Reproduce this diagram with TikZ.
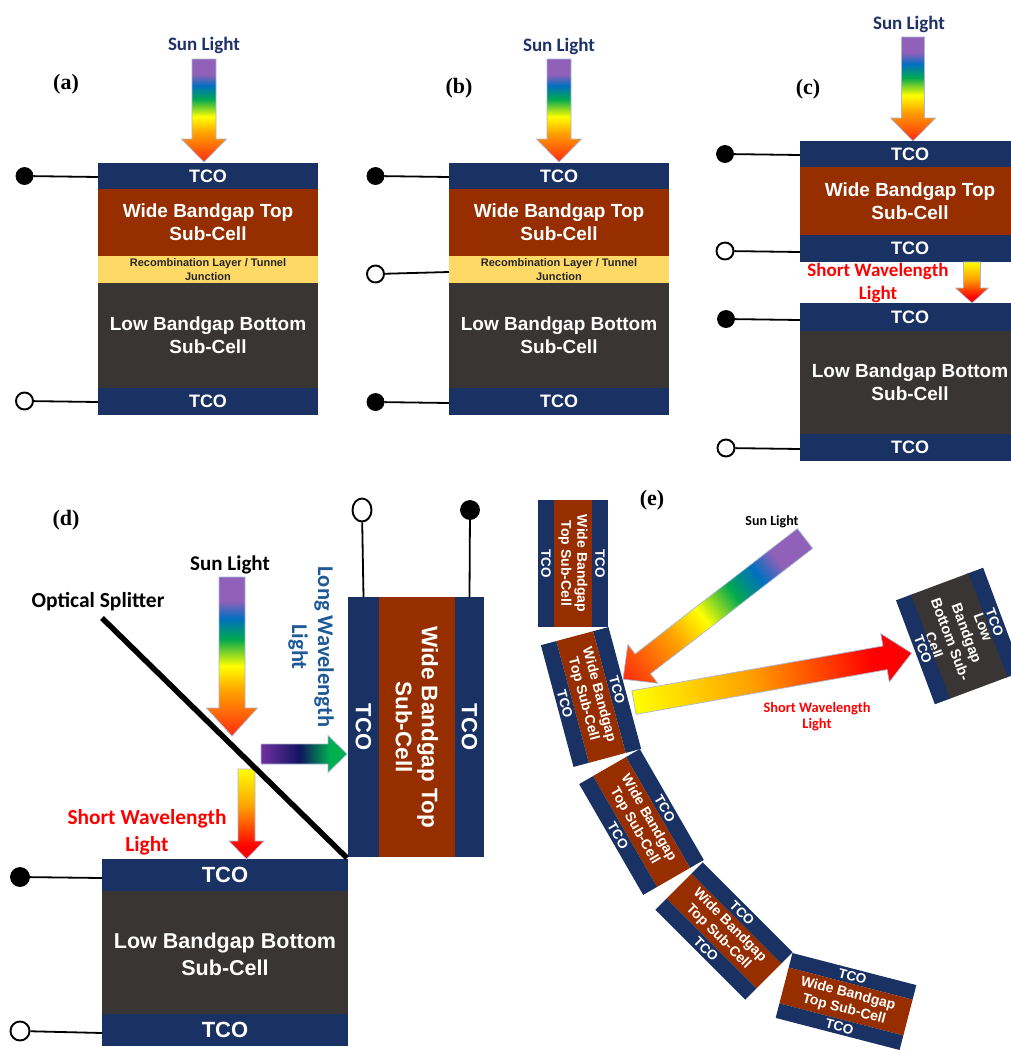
\documentclass[tikz,border=0pt]{standalone}
\usepackage{fontspec}
\usetikzlibrary{shapes.geometric}
\setmainfont{Liberation Sans}
\newfontfamily\labfont{Carlito}
\newfontfamily\tagfont{Liberation Serif}
\definecolor{tcoblue}{HTML}{1A3263}
\definecolor{widered}{HTML}{962E00}
\definecolor{lowgrey}{HTML}{383534}
\definecolor{recyel}{HTML}{FFD966}
\definecolor{sunnavy}{HTML}{1F3268}
\definecolor{longblue}{HTML}{1F5A96}
\definecolor{edgeblue}{HTML}{A9B8D6}
\definecolor{rP}{HTML}{9160B8}
\definecolor{rB}{HTML}{0070C0}
\definecolor{rG}{HTML}{00A850}
\definecolor{rY}{HTML}{FFFF00}
\definecolor{rO}{HTML}{FFA000}
\definecolor{rR}{HTML}{FF2A10}
\definecolor{sR}{HTML}{FF0000}
\definecolor{lP}{HTML}{7030A0}
\definecolor{lN}{HTML}{10145F}
\definecolor{lG}{HTML}{00B050}
\pgfdeclareverticalshading{rainbowshade}{100bp}{color(0bp)=(rR); color(25bp)=(rR); color(39bp)=(rO); color(47bp)=(rY); color(55.5bp)=(rG); color(62bp)=(rB); color(67.5bp)=(rP); color(75bp)=(rP); color(100bp)=(rP)}
\pgfdeclareverticalshading{shortshade}{100bp}{color(0bp)=(sR); color(32bp)=(sR); color(54bp)=(rO); color(75bp)=(rY); color(100bp)=(rY)}
\pgfdeclareverticalshading{longshade}{100bp}{color(0bp)=(lG); color(35bp)=(lG); color(52.5bp)=(lN); color(75bp)=(lP); color(100bp)=(lP)}
\newcommand\fs[2]{\fontsize{#1}{#2}\selectfont}
\tikzset{
  lay/.style={inner sep=0pt,outer sep=0pt,draw=none,align=center,text=white},
  termb/.style={circle,fill=black,draw=black,line width=.8pt,minimum size=17pt,inner sep=0pt},
  termo/.style={circle,fill=white,draw=black,line width=1.9pt,minimum size=17pt,inner sep=0pt},
  wire/.style={draw=black,line width=1.8pt},
  lab/.style={inner sep=0pt,align=center},
  tagl/.style={inner sep=0pt,font=\tagfont\bfseries\fs{22}{24}},
  edge/.style={draw=edgeblue,line width=.7pt,line join=miter}
}
% [opts] #2 name #3 x0 #4 y0 #5 x1 #6 y1 #7 colour #8 font #9 text
\newcommand\lay[9][]{\node[lay,#1,fill=#7,font=\bfseries#8,minimum width={(#5-#3)*1pt},minimum height={(#6-#4)*1pt}] (#2) at ({(#3+#5)/2},{(#4+#6)/2}) {#9};}
% tail x, tail y, angle, length, half shaft, half head, head length, shading
\newcommand\grarrow[8]{%
  \begin{scope}[transform canvas={shift={(#1,#2)},rotate=#3}]
    \begin{scope}
      \clip (-#5,0) -- (#5,0) -- (#5,#4-#7) -- (#6,#4-#7) -- (0,#4) -- (-#6,#4-#7) -- (-#5,#4-#7) -- cycle;
      \shade[shading=#8] (-#6,0) rectangle (#6,#4);
    \end{scope}
    \draw[edge] (-#5,0) -- (#5,0) -- (#5,#4-#7) -- (#6,#4-#7) -- (0,#4) -- (-#6,#4-#7) -- (-#5,#4-#7) -- cycle;
  \end{scope}}
% rotated 3-layer cell: #1 prefix #2 cx #3 cy #4 angle #5 length #6 top T #7 mid H #8 bottom T #9 middle colour; then {TCO font}{mid font}{mid text}
\newcommand\rcell[9]{\def\rcA{#1}\def\rcB{#2}\def\rcC{#3}\def\rcD{#4}\def\rcE{#5}\def\rcF{#6}\def\rcG{#7}\def\rcH{#8}\def\rcI{#9}\rcellB}
\newcommand\rcellB[3]{%
  \begin{scope}[shift={(\rcB,\rcC)},rotate=\rcD,transform shape]
    \pgfmathsetmacro\rcT{-(\rcF+\rcG+\rcH)/2}
    \pgfmathsetmacro\rcM{\rcT+\rcF}
    \pgfmathsetmacro\rcN{\rcM+\rcG}
    \pgfmathsetmacro\rcU{\rcN+\rcH}
    \pgfmathsetmacro\rcX{-\rcE/2}
    \pgfmathsetmacro\rcY{\rcE/2}
    \lay{\rcA t}{\rcX}{\rcT}{\rcY}{\rcM}{tcoblue}{#1}{TCO}
    \lay{\rcA m}{\rcX}{\rcM}{\rcY}{\rcN}{\rcI}{#2}{#3}
    \lay{\rcA b}{\rcX}{\rcN}{\rcY}{\rcU}{tcoblue}{#1}{TCO}
  \end{scope}}
\begin{document}
\begin{tikzpicture}[x=1pt,y=-1pt]
\fill[white] (0,0) rectangle (1011,1050);
\useasboundingbox (0,0) rectangle (1011,1050);
\clip (0,0) rectangle (1011,1050);

% ---------- (a)
\node[tagl] (taga) at (66,84) {(a)};
\node[lab,text=sunnavy,font=\labfont\bfseries\fs{19}{22}] (suna) at (204,45) {Sun Light};
\grarrow{204}{59}{0}{103}{12}{22.5}{23}{rainbowshade}
\lay{a1}{98}{163}{318}{189}{tcoblue}{\fs{18}{22}}{TCO}
\lay{a2}{98}{189}{318}{256}{widered}{\fs{19}{23}}{\rule{0pt}{2pt}Wide Bandgap Top\\Sub-Cell}
\lay[text=black!85]{a3}{98}{256}{318}{283}{recyel}{\fs{11}{14}}{Recombination Layer / Tunnel\\Junction}
\lay{a4}{98}{283}{318}{388}{lowgrey}{\fs{19}{23}}{Low Bandgap Bottom\\Sub-Cell}
\lay{a5}{98}{388}{318}{415}{tcoblue}{\fs{18}{22}}{TCO}
\node[termb] (ta1) at (24.5,176) {};
\node[termo] (ta2) at (24.5,401) {};
\coordinate (a1w) at (98,177);
\coordinate (a5w) at (98,402);
\draw[wire] (ta1) -- (a1w);
\draw[wire] (ta2) -- (a5w);

% ---------- (b)
\node[tagl] (tagb) at (459,88) {(b)};
\node[lab,text=sunnavy,font=\labfont\bfseries\fs{19}{22}] (sunb) at (559,46) {Sun Light};
\grarrow{559}{59}{0}{103}{12}{22.5}{23}{rainbowshade}
\lay{b1}{449}{163}{669}{189}{tcoblue}{\fs{18}{22}}{TCO}
\lay{b2}{449}{189}{669}{256}{widered}{\fs{19}{23}}{Wide Bandgap Top\\Sub-Cell}
\lay[text=black!85]{b3}{449}{256}{669}{283}{recyel}{\fs{11}{14}}{Recombination Layer / Tunnel\\Junction}
\lay{b4}{449}{283}{669}{388}{lowgrey}{\fs{19}{23}}{Low Bandgap Bottom\\Sub-Cell}
\lay{b5}{449}{388}{669}{415}{tcoblue}{\fs{18}{22}}{TCO}
\node[termb] (tb1) at (375.5,176) {};
\node[termo] (tb2) at (375.5,274) {};
\node[termb] (tb3) at (375.5,402) {};
\coordinate (b1w) at (449,177);
\coordinate (bj) at (449,272);
\coordinate (b5w) at (449,403);
\draw[wire] (tb1) -- (b1w);
\draw[wire] (tb2) -- (bj);
\draw[wire] (tb3) -- (b5w);

% ---------- (c)
\node[tagl] (tagc) at (808,89) {(c)};
\node[lab,text=sunnavy,font=\labfont\bfseries\fs{19}{22}] (sunc) at (909,24) {Sun Light};
\grarrow{913}{37}{0}{104}{11.5}{22.5}{23}{rainbowshade}
\lay{c1}{800}{141}{1020}{167}{tcoblue}{\fs{18}{22}}{TCO}
\lay{c2}{800}{167}{1020}{235}{widered}{\fs{19}{23}}{Wide Bandgap Top\\Sub-Cell}
\lay{c3}{800}{235}{1020}{262}{tcoblue}{\fs{18}{22}}{TCO}
\lay{c4}{800}{303}{1020}{331}{tcoblue}{\fs{18}{22}}{TCO}
\lay{c5}{800}{331}{1020}{434}{lowgrey}{\fs{19}{23}}{Low Bandgap Bottom\\Sub-Cell}
\lay{c6}{800}{434}{1020}{461}{tcoblue}{\fs{18}{22}}{TCO}
\grarrow{972}{262}{0}{41}{8.5}{16.5}{15}{shortshade}
\node[lab,text=red,font=\labfont\bfseries\fs{19}{23}] (shortc) at (878,283) {Short Wavelength\\Light};
\node[termb] (tc1) at (725,154) {};
\node[termo] (tc2) at (725,251) {};
\node[termb] (tc3) at (726,319) {};
\node[termo] (tc4) at (726,448) {};
\coordinate (c1w) at (800,155);
\coordinate (c3w) at (800,252);
\coordinate (c4w) at (800,320);
\coordinate (c6w) at (800,449);
\draw[wire] (tc1) -- (c1w);
\draw[wire] (tc2) -- (c3w);
\draw[wire] (tc3) -- (c4w);
\draw[wire] (tc4) -- (c6w);

% ---------- (d)
\node[tagl] (tagd) at (66,520) {(d)};
\node[lab,text=black,font=\labfont\bfseries\fs{21}{24}] (sund) at (230,565) {Sun Light};
\node[lab,text=black,font=\labfont\bfseries\fs{21.5}{24}] (opt) at (98,602) {Optical Splitter};
\rcell{dr}{416}{727}{-90}{260}{29}{76}{31}{widered}{\fs{22}{26}}{\fs{22.5}{26}}{Wide Bandgap Top\\Sub-Cell}
\lay{d1}{102}{859}{348}{891}{tcoblue}{\fs{22}{26}}{TCO}
\lay{d2}{102}{893}{348}{1016}{lowgrey}{\fs{21.5}{27}}{Low Bandgap Bottom\\Sub-Cell}
\lay{d2b}{102}{891}{348}{893}{lowgrey}{\fs{1}{1}}{}
\lay{d3}{102}{1014}{348}{1046}{tcoblue}{\fs{22}{26}}{TCO}
\grarrow{232}{577}{0}{159}{13}{25.5}{28}{rainbowshade}
\grarrow{246.5}{769}{0}{90}{8.5}{17.5}{18}{shortshade}
\grarrow{261}{754}{90}{86}{10}{18.5}{19}{longshade}
\node[lab,text=red,font=\labfont\bfseries\fs{21.4}{27}] (shortd) at (147,832) {Short Wavelength\\Light};
\node[lab,text=longblue,font=\labfont\bfseries\fs{22.5}{26},rotate=-90] (longd) at (311,647) {Long Wavelength\\Light};
\coordinate (sp1) at (102,618);
\coordinate (sp2) at (347,858);
\draw[black,line width=5.5pt] (sp1) -- (sp2);
\node[termb,minimum size=19pt] (td1) at (20,877) {};
\node[termo,minimum size=19pt] (td2) at (20,1031) {};
\coordinate (d1w) at (102,878);
\coordinate (d3w) at (102,1033);
\draw[wire] (td1) -- (d1w);
\draw[wire] (td2) -- (d3w);
\node[ellipse,fill=white,draw=black,line width=1.9pt,inner sep=0pt,minimum width=19pt,minimum height=23pt] (td3) at (362,510) {};
\node[termb,minimum size=19pt] (td4) at (470,510) {};
\draw[wire] (td3) -- (drb.west);
\draw[wire] (td4) -- (drt.west);

% ---------- (e)
\node[tagl] (tage) at (652,500) {(e)};
\rcell{e1}{573}{563.5}{-90}{127}{16}{38}{16}{widered}{\fs{13.5}{16}}{\fs{14}{16}}{Wide Bandgap\\Top Sub-Cell}
\rcell{e2}{591}{697}{-75}{126}{16}{38}{16}{widered}{\fs{13.5}{16}}{\fs{14}{16}}{Wide Bandgap\\Top Sub-Cell}
\rcell{e3}{641.5}{822}{-60}{128}{16}{38}{16}{widered}{\fs{13.5}{16}}{\fs{14}{16}}{Wide Bandgap\\Top Sub-Cell}
\rcell{e4}{724}{931}{-45}{127}{16}{35}{16}{widered}{\fs{13.5}{16}}{\fs{14}{16}}{Wide Bandgap\\Top Sub-Cell}
\rcell{e5}{846}{1001.5}{-14.5}{128}{15}{37}{15}{widered}{\fs{13.5}{16}}{\fs{14}{16}}{Wide Bandgap\\Top Sub-Cell}
\rcell{e6}{959}{636}{-69.5}{111}{17}{60}{16}{lowgrey}{\fs{13.5}{16}}{\fs{14.5}{17.5}}{Low\\Bandgap\\Bottom Sub-\\Cell}
\node[lab,text=black,font=\labfont\bfseries\fs{14}{16}] (sune) at (772,522) {Sun Light};
\grarrow{805}{538.5}{-52.3}{230}{12.5}{24.5}{25}{rainbowshade}
\grarrow{634}{702.5}{100.1}{282}{12}{24.5}{27}{shortshade}
\node[lab,text=red,font=\labfont\bfseries\fs{14.4}{16}] (shorte) at (817,717) {Short Wavelength\\Light};
\end{tikzpicture}
\end{document}
